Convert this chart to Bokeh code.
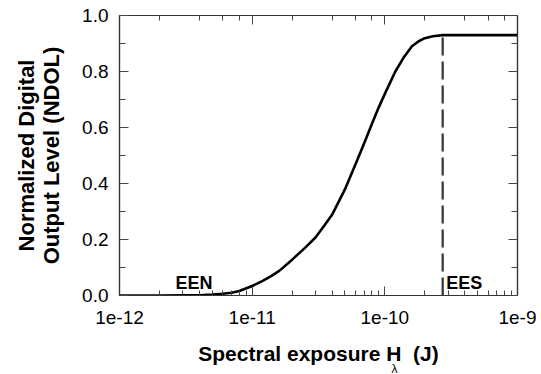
from bokeh.plotting import figure
from bokeh.models import (LogAxis, LinearAxis, Label, Title, NumeralTickFormatter,
                          CustomJSTickFormatter, SingleIntervalTicker, ColumnDataSource)
from bokeh.embed import file_html
from bokeh.resources import INLINE

# Data
exposure = [1e-12, 2e-12, 3e-12, 4e-12, 5e-12, 6e-12, 7e-12, 8e-12, 1e-11, 1.2e-11,
            1.4e-11, 1.6e-11, 2e-11, 2.5e-11, 3e-11, 3.5e-11, 4e-11, 5e-11, 6e-11,
            7e-11, 8e-11, 9e-11, 1e-10, 1.2e-10, 1.4e-10, 1.6e-10, 1.8e-10, 2e-10,
            2.3e-10, 2.73e-10, 4e-10, 1e-9]
ndol = [0.0, 0.0, 0.0005, 0.001, 0.003, 0.006, 0.010, 0.016, 0.034, 0.052,
        0.070, 0.088, 0.128, 0.170, 0.207, 0.250, 0.288, 0.379, 0.468,
        0.545, 0.613, 0.672, 0.720, 0.800, 0.853, 0.890, 0.908, 0.919,
        0.926, 0.930, 0.930, 0.930]
ees_x = [2.73e-10]
ees_top = [0.93]
ees_bottom = [0.0]
een_label = "EEN"
ees_label = "EES"
y_title = "Normalized Digital\nOutput Level (NDOL)"
x_title = "Spectral exposure H\u00a0\u00a0(J)"
x_sub = "λ"

FONT = "Liberation Sans"

p = figure(width=541, height=374, x_axis_type="log", x_range=(1e-12, 1e-9),
           y_range=(0, 1.0), output_backend="svg", toolbar_location=None,
           min_border_left=119, min_border_right=24, min_border_top=15,
           min_border_bottom=79)
p.grid.visible = False
p.outline_line_color = "#333333"
p.outline_line_width = 1.2
p.background_fill_color = "white"
p.border_fill_color = "white"

src = ColumnDataSource(dict(x=exposure, y=ndol))
p.line("x", "y", source=src, line_color="black", line_width=2.6, line_join="round")
p.segment(x0=ees_x, y0=ees_bottom, x1=ees_x, y1=ees_top, line_color="#333333",
          line_width=2.2, line_dash="18 6")

def style_axis(ax, labels=True):
    ax.major_tick_in = 9
    ax.major_tick_out = 0
    ax.minor_tick_in = 5
    ax.minor_tick_out = 0
    ax.axis_line_color = "#333333"
    ax.axis_line_width = 1.2
    ax.major_tick_line_color = "#444444"
    ax.minor_tick_line_color = "#444444"
    ax.major_label_text_font = FONT
    ax.major_label_text_font_size = "19px"
    ax.major_label_text_color = "black"
    ax.major_label_standoff = 6
    ax.axis_label_text_font = FONT
    ax.axis_label_text_font_style = "bold"
    ax.axis_label_text_font_size = "21px"
    ax.axis_label_text_color = "black"
    if not labels:
        ax.major_label_text_font_size = "0px"
        ax.major_label_text_color = None

xa = p.xaxis[0]
style_axis(xa)
xa.formatter = CustomJSTickFormatter(code="return '1e' + Math.round(Math.log10(tick));")
xa.major_label_standoff = 15
xa.axis_label = x_title
xa.axis_label_standoff = 15

ya = p.yaxis[0]
style_axis(ya)
ya.ticker = SingleIntervalTicker(interval=0.2, num_minor_ticks=2)
ya.formatter = NumeralTickFormatter(format="0.0")
ya.minor_tick_in = 6
ya.major_label_standoff = 11
ya.axis_label = y_title
ya.axis_label_text_font_size = "22px"
ya.axis_label_standoff = 15
ya.axis_label_text_line_height = 1.0

top = LogAxis()
style_axis(top, labels=False)
p.add_layout(top, "above")
right = LinearAxis(ticker=SingleIntervalTicker(interval=0.2, num_minor_ticks=2))
style_axis(right, labels=False)
right.minor_tick_in = 6
p.add_layout(right, "right")

sub = Title(text=x_sub, align="left", offset=272, standoff=-17,
            text_font=FONT, text_font_size="12px", text_color="black",
            text_font_style="normal", text_line_height=0.9)
p.add_layout(sub, "below")

p.add_layout(Label(x=2.64e-12, y=0.043, text=een_label, text_font=FONT,
                   text_color="black", text_font_style="bold",
                   text_font_size="18px", text_baseline="alphabetic"))
p.add_layout(Label(x=2.9e-10, y=0.043, text=ees_label, text_font=FONT,
                   text_color="black", text_font_style="bold",
                   text_font_size="18px", text_baseline="alphabetic"))

open("out.html", "w").write(file_html(p, INLINE))
